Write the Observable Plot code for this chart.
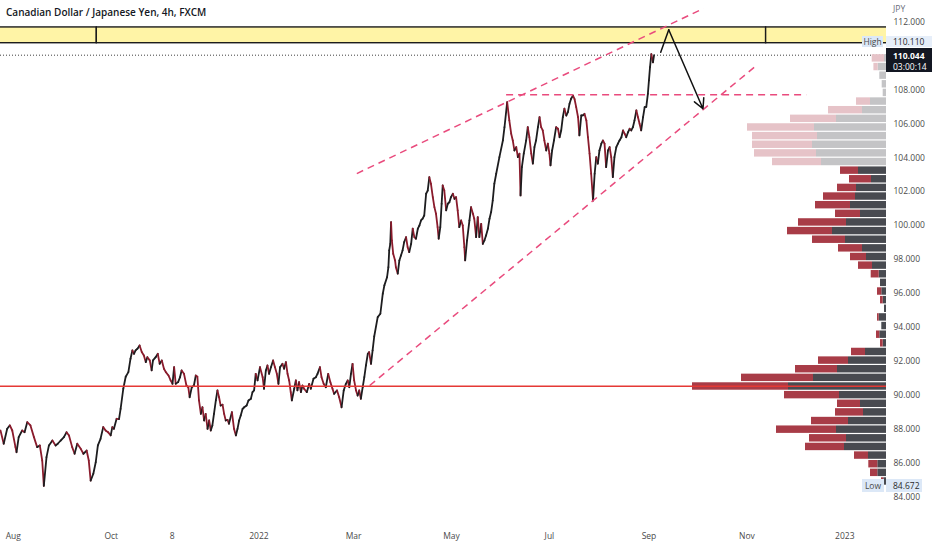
<!DOCTYPE html>
<html>
<head>
<meta charset="utf-8">
<script src="https://cdn.jsdelivr.net/npm/d3@7"></script>
<script src="https://cdn.jsdelivr.net/npm/@observablehq/plot@0.6"></script>
<style>
  body { margin: 0; background: #ffffff; }
  #wrap { position: relative; width: 932px; height: 550px; overflow: hidden; font-family: "Open Sans", sans-serif; }
  #wrap svg { position: absolute; left: 0; top: 0; }
  .lbl { position: absolute; font-size: 8.5px; line-height: 1; white-space: nowrap; box-sizing: border-box; }
</style>
</head>
<body>
<div id="wrap"></div>
<script>
// ---------- DATA ----------
const candleTimes = [
"2021-07-24 00","2021-07-26 00","2021-07-28 04","2021-07-29 20","2021-07-31 08","2021-08-02 08","2021-08-03 00","2021-08-04 08","2021-08-06 12","2021-08-08 00",
"2021-08-09 16","2021-08-11 16","2021-08-13 20","2021-08-15 20","2021-08-17 12","2021-08-19 00","2021-08-20 00","2021-08-21 16","2021-08-23 04","2021-08-25 08",
"2021-08-27 08","2021-08-28 16","2021-08-30 12","2021-09-01 12","2021-09-03 04","2021-09-04 16","2021-09-06 16","2021-09-08 04","2021-09-09 20","2021-09-12 00",
"2021-09-13 16","2021-09-15 16","2021-09-17 00","2021-09-18 04","2021-09-19 20","2021-09-21 08","2021-09-22 16","2021-09-24 08","2021-09-26 00","2021-09-27 12",
"2021-09-29 00","2021-09-30 16","2021-10-01 16","2021-10-02 16","2021-10-04 08","2021-10-05 20","2021-10-06 20","2021-10-08 12","2021-10-10 00","2021-10-11 16",
"2021-10-13 00","2021-10-14 04","2021-10-15 04","2021-10-16 04","2021-10-17 08","2021-10-18 16","2021-10-20 00","2021-10-21 08","2021-10-22 12","2021-10-23 12",
"2021-10-25 00","2021-10-26 04","2021-10-27 00","2021-10-28 16","2021-10-30 00","2021-10-31 04","2021-11-01 12","2021-11-02 20","2021-11-04 00","2021-11-05 16",
"2021-11-07 00","2021-11-08 04","2021-11-09 04","2021-11-10 04","2021-11-11 16","2021-11-12 20","2021-11-13 20","2021-11-15 08","2021-11-16 20","2021-11-18 00",
"2021-11-18 20","2021-11-20 04","2021-11-21 12","2021-11-22 16","2021-11-23 16","2021-11-24 16","2021-11-25 20","2021-11-26 20","2021-11-27 20","2021-11-28 20",
"2021-11-30 00","2021-12-01 00","2021-12-02 00","2021-12-03 00","2021-12-04 00","2021-12-05 04","2021-12-06 04","2021-12-07 04","2021-12-08 04","2021-12-09 08",
"2021-12-10 08","2021-12-11 08","2021-12-12 12","2021-12-13 08","2021-12-15 04","2021-12-16 12","2021-12-17 16","2021-12-18 16","2021-12-19 16","2021-12-20 16",
"2021-12-21 20","2021-12-22 20","2021-12-24 08","2021-12-25 12","2021-12-27 00","2021-12-28 00","2021-12-29 00","2021-12-30 00","2021-12-31 04","2022-01-01 16",
"2022-01-03 08","2022-01-04 04","2022-01-05 08","2022-01-06 08","2022-01-07 08","2022-01-08 12","2022-01-09 20","2022-01-11 00","2022-01-12 04","2022-01-13 04",
"2022-01-14 04","2022-01-15 16","2022-01-16 16","2022-01-17 20","2022-01-18 20","2022-01-19 20","2022-01-20 20","2022-01-21 12","2022-01-23 00","2022-01-24 00",
"2022-01-25 00","2022-01-26 00","2022-01-27 04","2022-01-28 04","2022-01-29 04","2022-01-30 20","2022-02-01 08","2022-02-02 08","2022-02-04 00","2022-02-05 12",
"2022-02-06 12","2022-02-08 00","2022-02-09 00","2022-02-10 08","2022-02-11 16","2022-02-13 04","2022-02-14 12","2022-02-15 20","2022-02-16 20","2022-02-18 16",
"2022-02-20 00","2022-02-21 12","2022-02-22 20","2022-02-24 04","2022-02-25 08","2022-02-26 08","2022-02-27 08","2022-02-28 08","2022-03-01 08","2022-03-02 12",
"2022-03-03 12","2022-03-04 12","2022-03-05 12","2022-03-06 16","2022-03-07 16","2022-03-08 16","2022-03-09 20","2022-03-10 16","2022-03-11 20","2022-03-12 20",
"2022-03-13 20","2022-03-16 00","2022-03-17 16","2022-03-19 04","2022-03-20 04","2022-03-21 20","2022-03-22 16","2022-03-23 04","2022-03-23 20","2022-03-24 08",
"2022-03-24 20","2022-03-25 16","2022-03-26 20","2022-03-27 08","2022-03-28 12","2022-03-29 12","2022-03-30 12","2022-03-31 12","2022-04-01 12","2022-04-02 16",
"2022-04-03 16","2022-04-04 16","2022-04-05 20","2022-04-06 20","2022-04-07 20","2022-04-08 20","2022-04-10 00","2022-04-11 00","2022-04-12 00","2022-04-13 00",
"2022-04-14 00","2022-04-15 04","2022-04-16 04","2022-04-17 04","2022-04-18 04","2022-04-19 08","2022-04-20 08","2022-04-21 08","2022-04-22 08","2022-04-23 00",
"2022-04-24 00","2022-04-24 20","2022-04-25 12","2022-04-26 12","2022-04-27 16","2022-04-28 16","2022-04-29 16","2022-04-30 16","2022-05-01 20","2022-05-02 20",
"2022-05-03 20","2022-05-04 20","2022-05-05 20","2022-05-07 00","2022-05-08 00","2022-05-09 00","2022-05-09 12","2022-05-10 16","2022-05-12 04","2022-05-13 04",
"2022-05-14 08","2022-05-15 04","2022-05-16 08","2022-05-17 08","2022-05-18 08","2022-05-19 12","2022-05-20 12","2022-05-21 12","2022-05-22 12","2022-05-23 16",
"2022-05-24 16","2022-05-25 16","2022-05-26 16","2022-05-27 16","2022-05-28 20","2022-05-30 20","2022-06-02 00","2022-06-03 00","2022-06-04 16","2022-06-06 00",
"2022-06-07 04","2022-06-08 04","2022-06-09 04","2022-06-10 08","2022-06-11 08","2022-06-12 08","2022-06-13 00","2022-06-13 20","2022-06-15 00","2022-06-16 12",
"2022-06-17 12","2022-06-18 12","2022-06-19 16","2022-06-20 16","2022-06-21 16","2022-06-22 16","2022-06-23 20","2022-06-24 20","2022-06-25 20","2022-06-26 20",
"2022-06-27 20","2022-06-29 00","2022-06-30 00","2022-07-01 00","2022-07-01 16","2022-07-02 16","2022-07-03 20","2022-07-05 04","2022-07-06 08","2022-07-07 08",
"2022-07-08 08","2022-07-09 08","2022-07-10 08","2022-07-11 12","2022-07-12 12","2022-07-13 12","2022-07-14 12","2022-07-15 16","2022-07-16 16","2022-07-17 16",
"2022-07-18 20","2022-07-19 16","2022-07-20 20","2022-07-21 20","2022-07-22 20","2022-07-24 00","2022-07-25 00","2022-07-26 00","2022-07-27 00","2022-07-28 04",
"2022-07-29 04","2022-07-30 04","2022-07-31 04","2022-08-01 04","2022-08-02 08","2022-08-03 08","2022-08-04 08","2022-08-05 08","2022-08-06 12","2022-08-07 12",
"2022-08-08 12","2022-08-09 12","2022-08-10 12","2022-08-11 16","2022-08-12 16","2022-08-13 16","2022-08-14 20","2022-08-15 20","2022-08-16 20","2022-08-17 20",
"2022-08-19 00","2022-08-20 00","2022-08-21 00","2022-08-22 00","2022-08-23 00","2022-08-24 04","2022-08-25 04","2022-08-26 04","2022-08-27 04","2022-08-28 08",
"2022-08-29 08","2022-08-30 08","2022-08-31 08","2022-09-01 00","2022-09-01 16","2022-09-02 12","2022-09-03 12","2022-09-04 04"
];
const candlePrices = [
87.93,87.15,88.03,88.23,87.93,86.95,86.65,87.54,87.93,87.83,
88.42,88.23,87.54,86.95,87.05,86.16,84.67,86.36,87.05,87.34,
87.05,87.15,87.34,87.54,87.83,87.64,86.95,86.56,87.15,86.85,
86.56,86.75,86.16,84.98,85.38,86.06,87.05,87.44,88.13,87.93,
87.83,87.64,88.13,88.03,88.62,88.60,89.21,90.39,91.10,91.37,
92.16,92.65,92.45,92.65,92.75,92.94,92.55,92.35,91.96,92.25,
92.06,91.47,92.06,92.25,92.45,91.86,92.06,91.57,91.37,91.17,
90.88,90.68,91.66,90.68,90.78,91.07,91.47,91.27,90.58,90.48,
89.89,90.48,90.58,91.17,91.10,89.70,88.91,89.30,88.52,88.91,
88.03,88.52,87.93,88.23,88.91,89.70,90.29,89.89,89.40,89.45,
88.91,88.52,88.55,88.33,89.01,88.03,87.64,88.03,88.52,88.81,
89.21,89.30,89.40,89.70,89.80,90.19,90.29,91.27,90.88,91.66,
91.07,90.39,91.47,91.76,91.27,91.66,92.06,91.66,91.27,90.68,
91.66,91.86,91.57,91.96,91.27,90.88,90.19,89.70,90.39,90.88,
90.29,90.78,90.19,90.58,90.39,90.19,90.68,90.39,90.98,91.07,
91.27,91.66,91.07,90.68,90.48,91.27,90.78,90.39,90.09,90.29,
89.89,89.30,90.29,90.68,90.88,90.48,91.27,91.86,90.88,90.29,
89.99,90.29,89.80,90.48,91.07,91.76,92.45,92.55,91.86,92.65,
93.47,94.61,94.81,95.99,96.48,96.96,97.55,98.54,98.93,100.21,
99.13,98.34,97.95,97.55,97.17,97.95,98.24,98.54,99.03,99.32,
98.73,98.44,98.93,99.82,99.32,99.23,99.82,100.01,100.31,100.41,
100.60,101.88,102.07,102.86,102.47,101.68,101.09,100.70,99.91,99.23,
99.91,101.29,102.37,102.07,100.90,101.29,101.38,101.68,101.88,101.58,
101.68,100.90,99.91,100.31,100.01,98.73,97.95,99.13,100.31,101.09,
100.70,100.41,99.32,100.50,99.32,100.11,98.93,99.13,99.42,99.82,
100.41,100.80,101.48,102.47,103.06,104.04,105.02,105.80,107.28,106.20,
105.42,105.02,104.43,104.63,104.04,104.24,101.78,103.45,104.24,105.02,
105.80,105.21,104.24,103.65,104.63,105.02,105.80,106.39,105.80,105.61,
105.02,104.43,104.83,104.24,103.55,104.43,105.02,105.80,105.71,105.21,
105.61,106.39,106.89,106.49,106.69,107.18,107.48,107.67,107.45,106.98,
106.39,105.32,106.49,106.50,106.59,106.20,105.21,104.24,103.06,101.48,
103.06,104.04,103.65,104.43,104.83,105.02,104.83,103.45,104.43,104.63,
104.04,102.86,104.04,104.63,104.83,105.02,105.21,105.61,105.42,105.21,
105.51,105.71,105.61,105.80,106.20,106.79,106.39,106.00,105.61,106.39,
106.98,107.00,107.77,108.56,109.34,110.11,109.62,110.04
];

// Volume profile (visible range), 50 rows from the range low to the range high
const rangeLow = 84.672;
const rangeHigh = 110.110;
const lastPrice = 110.044;
const profileUp = [
2.7,8.7,8.7,18,42,40,50,38,23,26,
47,98,73,49,38,21,3.3,6.7,4.7,7.3,
2,3.3,4.7,6,7.3,14,20,24,41,54,
40,26,36,31,30,15,28,65,70,74,
69,72,50,24,16,3.3,4.3,6.7,8.3,2
];
const profileDown = [
2.3,7.3,9,14,39,37,60,37,28,23,
55,96,72,42,30,14,2.7,3.3,0,1.7,
0,2.7,4.3,0,8,14,16,24,33,45,
48,25,35,32,19,22,18,49,62,60,
65,67,46,34,14,0,0,0,4.3,12.3
];
const valueAreaTop = 103.4;   // rows starting above this price are drawn pale

// Drawings
const supportLevel = 90.54;
const zoneBottom = 110.75, zoneTop = 111.68;
const zoneEdges = ["2021-06-01", "2021-09-22", "2022-11-13", "2023-03-15"];
const trendLines = [
  {x1: "2022-03-03", y1: 103.07, x2: "2022-10-05", y2: 112.80},
  {x1: "2022-03-11", y1: 90.58,  x2: "2022-11-07", y2: 109.44},
  {x1: "2022-06-04", y1: 107.71, x2: "2022-12-08", y2: 107.71}
];
const projectionTimes = ["2022-09-08 08", "2022-09-13 08", "2022-10-04 16"];
const projectionPrices = [110.22, 111.54, 106.89];

// Axes
const xDomain = ["2021-07-24", "2023-01-27"];
const xTickDates = ["2021-08-01","2021-10-01","2021-11-08","2022-01-01","2022-03-01","2022-05-01","2022-07-01","2022-09-01","2022-11-01","2023-01-01"];
const xTickLabels = ["Aug","Oct","8","2022","Mar","May","Jul","Sep","Nov","2023"];
const yTicks = [84,86,88,90,92,94,96,98,100,102,104,106,108,110,112];

// ---------- BUILD ----------
const parseTime = d3.utcParse("%Y-%m-%d %H");
const parseDay = d3.utcParse("%Y-%m-%d");
const candles = candleTimes.map((t, i) => ({date: parseTime(t), price: candlePrices[i]}));
const moves = d3.pairs(candles).map(([a, b]) => ({x1: a.date, y1: a.price, x2: b.date, y2: b.price, up: b.price >= a.price}));
const zones = d3.pairs(zoneEdges).map(([a, b]) => ({x1: parseDay(a), x2: parseDay(b), y1: zoneBottom, y2: zoneTop}));
const trends = trendLines.map(d => ({x1: parseDay(d.x1), y1: d.y1, x2: parseDay(d.x2), y2: d.y2}));
const proj = projectionTimes.map((t, i) => ({date: parseTime(t), price: projectionPrices[i]}));
const tickDates = xTickDates.map(parseDay);
const tickLabel = new Map(tickDates.map((d, i) => [+d, xTickLabels[i]]));

const rowH = (rangeHigh - rangeLow) / profileUp.length;
const rows = profileUp.map((u, k) => {
  const lo = rangeLow + k * rowH, hi = lo + rowH;
  const pale = lo >= valueAreaTop;
  return {lo, hi, up: u, down: profileDown[k],
    upColor: pale ? "#c4c4c6" : "#484a50",
    downColor: pale ? "#e6c3c8" : "#a83c47"};
});

const W = 932, H = 550, MT = 21.5, MB = 53.3, MR = 46;
const fontFamily = "'Open Sans', 'Noto Sans', sans-serif";

const main = Plot.plot({
  width: W, height: H,
  marginTop: MT, marginBottom: MB, marginLeft: 0, marginRight: MR,
  style: {fontSize: "8.5px", fontFamily, color: "#4a4a4a", background: "transparent", overflow: "visible"},
  x: {type: "utc", domain: xDomain.map(parseDay), ticks: tickDates, tickFormat: d => tickLabel.get(+d) ?? "", tickSize: 0, tickPadding: 36, label: null},
  y: {domain: [84, 112], axis: "right", ticks: yTicks, tickFormat: d => d.toFixed(3), tickSize: 0, tickPadding: 7, label: null},
  marks: [
    Plot.rect(zones, {x1: "x1", x2: "x2", y1: "y1", y2: "y2", fill: "#fff4a6", stroke: "#1b1b1b", strokeWidth: 1.4, clip: true}),
    Plot.ruleY([lastPrice], {stroke: "#2a2a2a", strokeWidth: 0.9, strokeDasharray: "1,2"}),
    Plot.link(moves, {x1: "x1", y1: "y1", x2: "x2", y2: "y2", stroke: d => d.up ? "#1d1d1f" : "#8a1b2c", strokeWidth: 1.8, strokeLinecap: "round"}),
    Plot.link(trends, {x1: "x1", y1: "y1", x2: "x2", y2: "y2", stroke: "#e94b7d", strokeWidth: 1.5, strokeDasharray: "7,5"}),
    Plot.line(proj.slice(0, 2), {x: "date", y: "price", stroke: "#111", strokeWidth: 1.5}),
    Plot.arrow([{a: proj[1], b: proj[2]}], {x1: d => d.a.date, y1: d => d.a.price, x2: d => d.b.date, y2: d => d.b.price, stroke: "#111", strokeWidth: 1.5, headLength: 11, headAngle: 55})
  ]
});

const vp = Plot.plot({
  width: W, height: H,
  marginTop: MT, marginBottom: MB, marginLeft: 0, marginRight: MR,
  style: {background: "transparent", overflow: "visible"},
  x: {domain: [0, W - MR], reverse: true, axis: null},
  y: {domain: [84, 112], axis: null},
  marks: [
    Plot.rect(rows, {x1: 0, x2: "up", y1: "lo", y2: "hi", fill: "upColor", insetTop: 0.6, insetBottom: 0.6}),
    Plot.rect(rows.filter(d => d.down > 0), {x1: "up", x2: d => d.up + d.down, y1: "lo", y2: "hi", fill: "downColor", insetTop: 0.6, insetBottom: 0.6}),
    Plot.ruleY([supportLevel], {stroke: "#e53935", strokeWidth: 1.6})
  ]
});

const wrap = document.getElementById("wrap");
wrap.appendChild(main);
wrap.appendChild(vp);

const ys = main.scale("y");
const axisX = W - MR;
function label(text, left, top, w, h, css) {
  const d = document.createElement("div");
  d.className = "lbl";
  d.textContent = text;
  d.style.left = left + "px"; d.style.top = top + "px";
  if (w) d.style.width = w + "px";
  if (h) { d.style.height = h + "px"; d.style.lineHeight = h + "px"; }
  Object.assign(d.style, css || {});
  wrap.appendChild(d);
  return d;
}
// title
label("Canadian Dollar / Japanese Yen, 4h, FXCM", 6, 7, null, null, {fontSize: "10px", fontWeight: "600", color: "#131722", fontFamily});
// currency
label("JPY", axisX + 7, 5, null, null, {color: "#6a6d78", fontSize: "8.5px", fontFamily});
// last price badge
const yLast = ys.apply(lastPrice);
const lastBox = label("", axisX, yLast - 7, W - axisX, 24, {background: "#131722", lineHeight: "normal"});
lastBox.innerHTML = '<div style="position:absolute;left:7px;top:2px;color:#fff;font-weight:700;font-size:8.5px;font-family:' + fontFamily.replace(/'/g, "") + '">' + lastPrice.toFixed(3) + '</div>' +
  '<div style="position:absolute;left:7px;top:13px;color:#fff;font-size:8.5px;font-family:' + fontFamily.replace(/'/g, "") + '">03:00:14</div>';
// high badge (stacked above the last-price badge)
const highTop = yLast - 19;
label("High", axisX - 24, highTop, 21, 11, {background: "#dce8f7", color: "#4a4a4a", textAlign: "center", fontFamily});
label(rangeHigh.toFixed(3), axisX, highTop, W - axisX, 11, {background: "#e6eef9", color: "#2a2a2a", paddingLeft: "7px", fontFamily});
// low badge
const yLow = ys.apply(rangeLow);
label("Low", axisX - 24, yLow - 6.5, 22, 13, {background: "#dce8f7", color: "#4a4a4a", textAlign: "center", fontFamily});
label(rangeLow.toFixed(3), axisX, yLow - 6.5, 36, 13, {background: "#dce8f7", color: "#2a2a2a", paddingLeft: "7px", fontFamily});
</script>
</body>
</html>
